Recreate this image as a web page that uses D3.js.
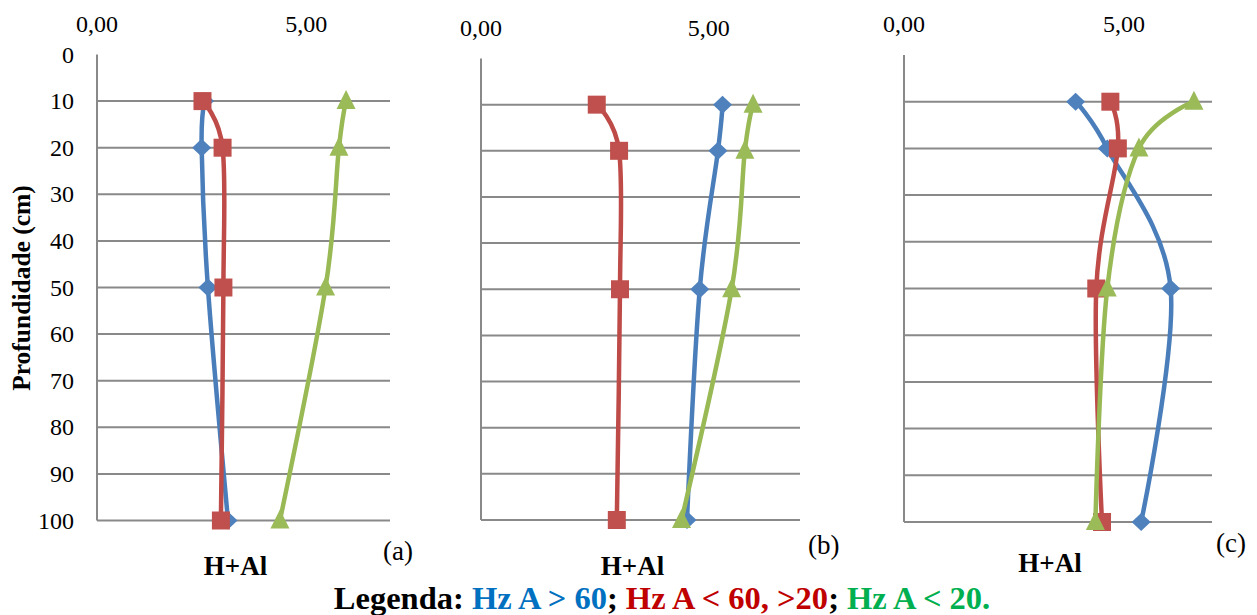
<!DOCTYPE html>
<html>
<head>
<meta charset="utf-8">
<script src="https://cdn.jsdelivr.net/npm/d3@7"></script>
<style>
  body { margin: 0; background: #fff; }
  svg text { font-family: "Times New Roman", "Liberation Serif", Tinos, "DejaVu Serif", serif; }
</style>
</head>
<body>
<svg id="chart" width="1257" height="615"></svg>
<script>
// depth (cm) of each sample
var depths = [10, 20, 50, 100];
var yTicks = [0, 10, 20, 30, 40, 50, 60, 70, 80, 90, 100];
var xTicks = [0, 5];
var seriesNames = ["Hz A > 60", "Hz A < 60, >20", "Hz A < 20."];

// H+Al values, one array per panel / series
var panelA_blue  = [2.57, 2.50, 2.65, 3.13];
var panelA_red   = [2.52, 3.00, 3.02, 2.96];
var panelA_green = [5.95, 5.78, 5.46, 4.37];

var panelB_blue  = [5.30, 5.20, 4.80, 4.52];
var panelB_red   = [2.54, 3.03, 3.05, 2.98];
var panelB_green = [5.97, 5.79, 5.50, 4.40];

var panelC_blue  = [3.90, 4.62, 6.06, 5.39];
var panelC_red   = [4.69, 4.86, 4.37, 4.50];
var panelC_green = [6.59, 5.34, 4.62, 4.35];

var lineColors = ["#4A7EBB", "#BE4B48", "#98B954"];
var markColors = ["#4F81BD", "#C0504D", "#9BBB59"];

var panels = [
  { left: 97, right: 390, top: 54.5, bottom: 520.5, tickY: 32, showY: true,
    tag: "(a)", tagX: 383, tagY: 560, labY: 575, values: [panelA_blue, panelA_red, panelA_green] },
  { left: 481, right: 800, top: 58.5, bottom: 520, tickY: 36, showY: false,
    tag: "(b)", tagX: 808, tagY: 554, labY: 575, values: [panelB_blue, panelB_red, panelB_green] },
  { left: 904, right: 1212, top: 55, bottom: 522, tickY: 32, showY: false,
    tag: "(c)", tagX: 1216, tagY: 552, labY: 572, values: [panelC_blue, panelC_red, panelC_green] }
];

var svg = d3.select("#chart");
var fmt = function(v) { return d3.format(".2f")(v).replace(".", ","); };

// marker shapes
function markerPath(i) {
  if (i === 0) return "M0,-9L9.5,0L0,9L-9.5,0Z";
  if (i === 1) return "M-9,-9H9V9H-9Z";
  return "M0,-11L9.5,8H-9.5Z";
}

panels.forEach(function(p) {
  var x = d3.scaleLinear().domain([0, 7]).range([p.left, p.right]);
  var y = d3.scaleLinear().domain([0, 100]).range([p.top, p.bottom]);

  var g = svg.append("g");

  // gridlines
  g.selectAll(".grid")
    .data(yTicks.filter(function(d) { return d > 0; }))
    .enter().append("line")
      .attr("x1", p.left).attr("x2", p.right)
      .attr("y1", function(d) { return y(d); })
      .attr("y2", function(d) { return y(d); })
      .attr("stroke", "#898989").attr("stroke-width", 2);

  g.append("line")
    .attr("x1", p.left).attr("x2", p.left)
    .attr("y1", y(0)).attr("y2", y(100))
    .attr("stroke", "#898989").attr("stroke-width", 2);

  // top value labels
  g.selectAll(".xt")
    .data(xTicks)
    .enter().append("text")
      .attr("x", function(d) { return x(d); })
      .attr("y", p.tickY)
      .attr("text-anchor", "middle")
      .attr("font-size", 24)
      .text(fmt);

  if (p.showY) {
    g.selectAll(".yt")
      .data(yTicks)
      .enter().append("text")
        .attr("x", 74)
        .attr("y", function(d) { return y(d); })
        .attr("dy", "0.34em")
        .attr("text-anchor", "end")
        .attr("font-size", 24)
        .text(function(d) { return d; });
  }

  var line = d3.line()
    .curve(d3.curveCatmullRom.alpha(0))
    .x(function(d) { return x(d.v); })
    .y(function(d) { return y(d.depth); });

  p.values.forEach(function(vals, i) {
    var pts = vals.map(function(v, k) { return { v: v, depth: depths[k] }; });
    g.append("path")
      .datum(pts)
      .attr("d", line)
      .attr("fill", "none")
      .attr("stroke", lineColors[i])
      .attr("stroke-width", 4.5)
      .attr("stroke-linejoin", "round");
    g.selectAll(".m" + i)
      .data(pts)
      .enter().append("path")
        .attr("transform", function(d) { return "translate(" + x(d.v) + "," + y(d.depth) + ")"; })
        .attr("d", markerPath(i))
        .attr("fill", markColors[i]);
  });

  g.append("text")
    .attr("x", (p.left + p.right) / 2 - 8)
    .attr("y", p.labY)
    .attr("text-anchor", "middle")
    .attr("font-size", 27)
    .attr("font-weight", "bold")
    .text("H+Al");

  g.append("text")
    .attr("x", p.tagX)
    .attr("y", p.tagY)
    .attr("font-size", 27)
    .text(p.tag);
});

svg.append("text")
  .attr("transform", "translate(30,288) rotate(-90)")
  .attr("text-anchor", "middle")
  .attr("font-size", 25.5)
  .attr("font-weight", "bold")
  .text("Profundidade (cm)");

var legendColors = ["#0070C0", "#C00000", "#00B050"];
var legend = svg.append("text")
  .attr("x", 662)
  .attr("y", 609)
  .attr("text-anchor", "middle")
  .attr("font-size", 32.5)
  .attr("font-weight", "bold");
legend.append("tspan").text("Legenda: ");
seriesNames.forEach(function(s, i) {
  legend.append("tspan").attr("fill", legendColors[i]).text(s);
  if (i < seriesNames.length - 1) legend.append("tspan").text("; ");
});
</script>
</body>
</html>
